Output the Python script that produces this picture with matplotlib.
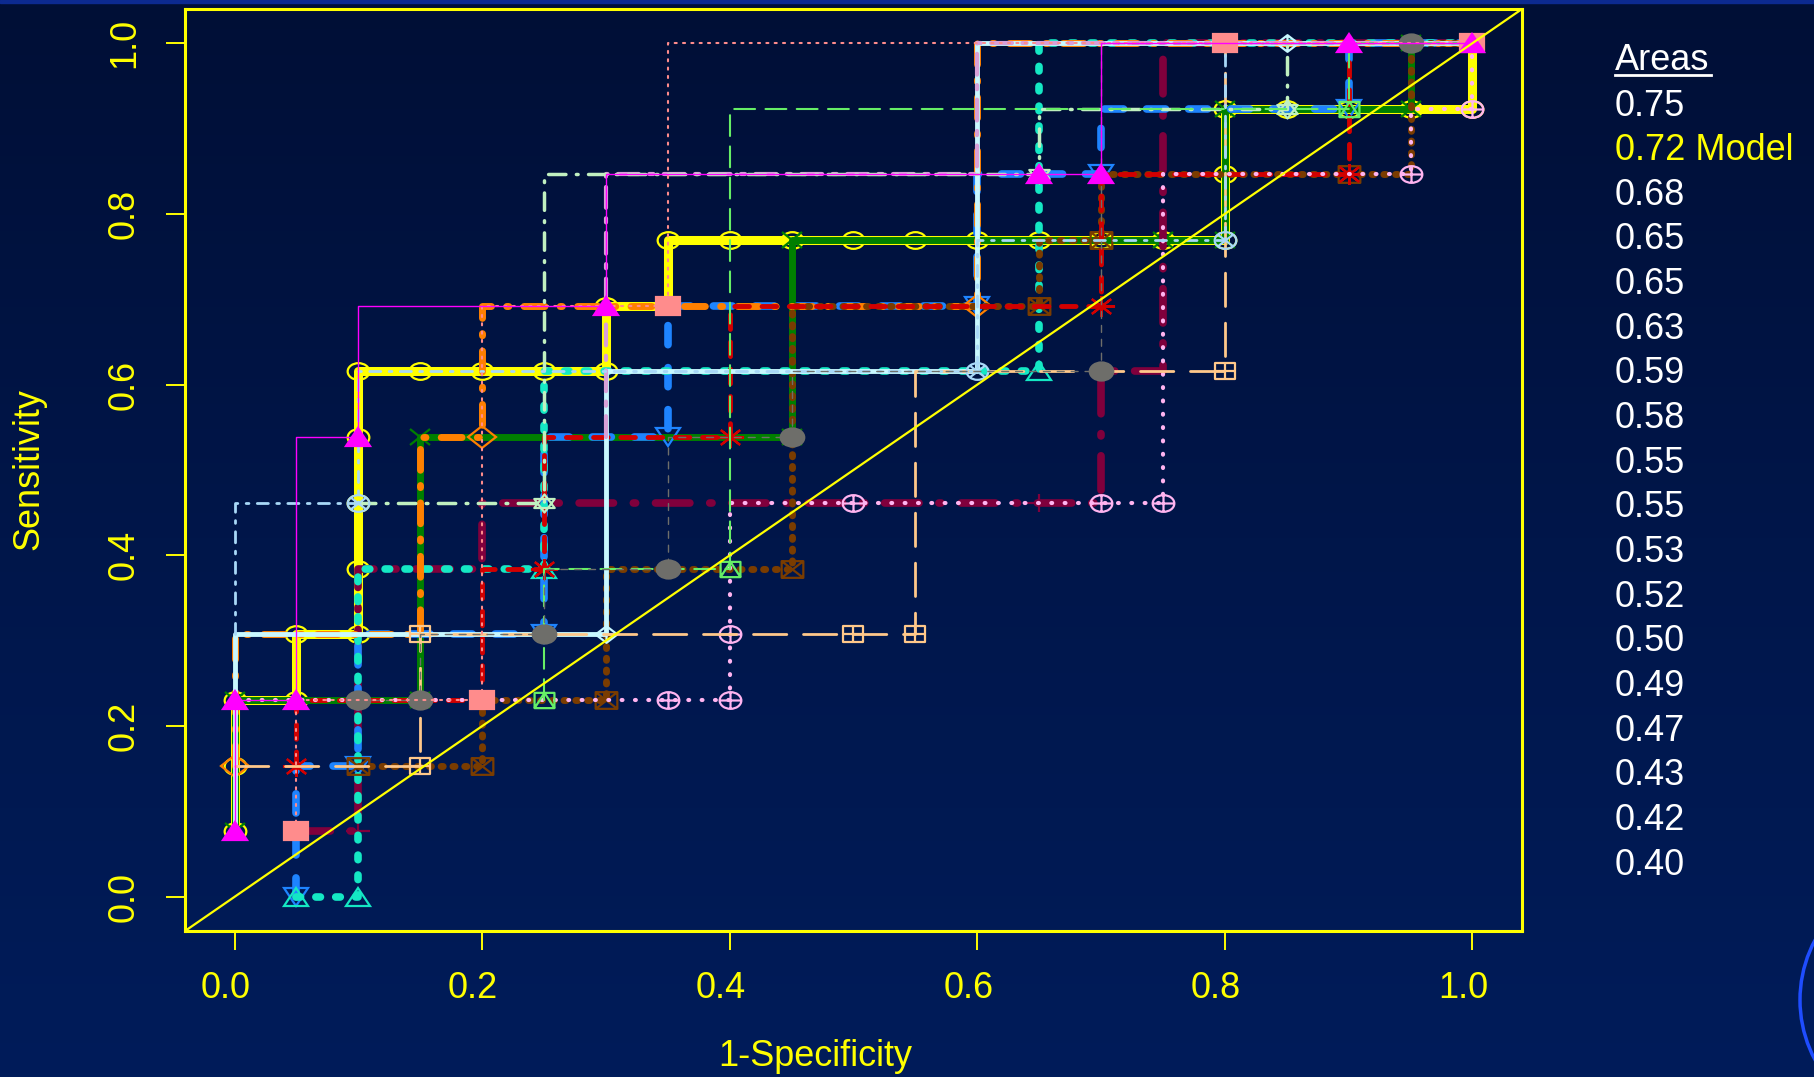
import numpy as np
import matplotlib
matplotlib.use("Agg")
import matplotlib.pyplot as plt
from matplotlib.path import Path
from matplotlib.markers import MarkerStyle
from matplotlib.transforms import Affine2D, ScaledTranslation
from matplotlib.patches import Circle
from matplotlib.colors import LinearSegmentedColormap

# 20 negatives, 13 positives -> ROC points stored as counts
n_neg, n_pos = 20, 13

model_fp = [0, 0, 0, 1, 1, 2, 2, 2, 2, 2, 3, 4, 5, 6, 6, 7, 7, 8, 9, 10, 11,
            12, 13, 14, 15, 16, 16, 16, 17, 18, 19, 20, 20]
model_tp = [1, 2, 3, 3, 4, 4, 5, 6, 7, 8, 8, 8, 8, 8, 9, 9, 10, 10, 10, 10, 10,
            10, 10, 10, 10, 10, 11, 12, 12, 12, 12, 12, 13]

green_fp = [0, 0, 3, 3, 9, 9, 15, 16, 16, 19, 19, 20]
green_tp = [1, 3, 3, 7, 7, 10, 10, 10, 12, 12, 13, 13]

orange_fp = [0, 0, 3, 3, 4, 4, 12, 12, 20]
orange_tp = [2, 4, 4, 7, 7, 9, 9, 13, 13]

blue_fp = [1, 1, 2, 2, 5, 5, 7, 7, 12, 12, 14, 14, 18, 18, 20]
blue_tp = [0, 2, 2, 4, 4, 7, 7, 9, 9, 11, 11, 12, 12, 13, 13]

aqua_fp = [1, 2, 2, 5, 5, 13, 13, 20]
aqua_tp = [0, 0, 5, 5, 8, 8, 13, 13]

maroon_fp = [1, 2, 2, 4, 4, 13, 14, 14, 15, 15, 20]
maroon_tp = [1, 1, 5, 5, 6, 6, 6, 8, 8, 13, 13]

red_fp = [1, 1, 4, 4, 5, 5, 8, 8, 14, 14, 18, 18, 20]
red_tp = [2, 3, 3, 5, 5, 7, 7, 9, 9, 11, 11, 13, 13]

brown_fp = [2, 4, 4, 6, 6, 9, 9, 13, 13, 14, 14, 18, 19, 19, 20]
brown_tp = [2, 2, 3, 3, 5, 5, 9, 9, 10, 10, 11, 11, 11, 13, 13]

gray_fp = [2, 3, 3, 5, 5, 7, 7, 9, 9, 14, 14, 19, 20]
gray_tp = [3, 3, 4, 4, 5, 5, 7, 7, 8, 8, 13, 13, 13]

salmon_fp = [1, 1, 4, 4, 7, 7, 16, 20]
salmon_tp = [1, 3, 3, 9, 9, 13, 13, 13]

magenta_fp = [0, 0, 1, 1, 2, 2, 6, 6, 13, 14, 14, 18, 20]
magenta_tp = [1, 3, 3, 7, 7, 9, 9, 11, 11, 11, 13, 13, 13]

lgreen_fp = [5, 5, 8, 8, 18, 18, 20]
lgreen_tp = [3, 5, 5, 12, 12, 13, 13]

peach_fp = [0, 3, 3, 10, 11, 11, 16, 16, 20]
peach_tp = [2, 2, 4, 4, 4, 8, 8, 13, 13]

pink_fp = [0, 7, 8, 8, 8, 10, 14, 15, 15, 19, 19, 20, 20]
pink_tp = [3, 3, 3, 4, 6, 6, 6, 6, 11, 11, 12, 12, 13]

pale_fp = [2, 5, 5, 13, 13, 17, 17, 20]
pale_tp = [6, 6, 11, 11, 12, 12, 13, 13]

sky_fp = [0, 0, 2, 2, 12, 12, 16, 16, 20]
sky_tp = [4, 6, 6, 8, 8, 10, 10, 13, 13]

cyan_fp = [0, 0, 6, 6, 12, 12, 17, 20]
cyan_tp = [1, 4, 4, 8, 8, 13, 13, 13]

plum_fp = [6, 6, 12, 12, 20]
plum_tp = [7, 11, 11, 13, 13]

areas = ["0.75", "0.72", "0.68", "0.65", "0.65", "0.63", "0.59", "0.58", "0.55",
         "0.55", "0.53", "0.52", "0.50", "0.49", "0.47", "0.43", "0.42", "0.40"]
model_row = 1

ticks = [0.0, 0.2, 0.4, 0.6, 0.8, 1.0]
tick_labels = ["0.0", "0.2", "0.4", "0.6", "0.8", "1.0"]


# ---- R-like plotting symbols built as paths ----
def poly(pts, closed=False):
    codes = [Path.MOVETO] + [Path.LINETO] * (len(pts) - 1)
    if closed:
        pts = list(pts) + [pts[0]]
        codes = codes + [Path.CLOSEPOLY]
    return Path(pts, codes)


circle = Path.unit_circle()
square = poly([(-1, -1), (1, -1), (1, 1), (-1, 1)], closed=True)
diamond = poly([(0, -1), (1, 0), (0, 1), (-1, 0)], closed=True)
tri_up = poly([(0, 1), (-0.87, -0.5), (0.87, -0.5)], closed=True)
tri_dn = poly([(0, -1), (-0.87, 0.5), (0.87, 0.5)], closed=True)
plus = [poly([(-1, 0), (1, 0)]), poly([(0, -1), (0, 1)])]
cross_in = [poly([(-0.7, -0.7), (0.7, 0.7)]), poly([(-0.7, 0.7), (0.7, -0.7)])]
cross_sq = [poly([(-1, -1), (1, 1)]), poly([(-1, 1), (1, -1)])]

pch = {
    "boxx": Path.make_compound_path(square, *cross_sq),
    "dplus": Path.make_compound_path(diamond, *plus),
    "oplus": Path.make_compound_path(circle, *plus),
    "david": Path.make_compound_path(tri_up, tri_dn),
    "splus": Path.make_compound_path(square, *plus),
    "ox": Path.make_compound_path(circle, *cross_in),
    "sqtri": Path.make_compound_path(square, poly([(-1, -1), (0, 1), (1, -1)])),
}
stretch = Affine2D().scale(1.3, 1.0)


def mk(m, fill="none"):
    if m is None:
        return None
    base = pch.get(m, m)
    return MarkerStyle(base, fillstyle="full" if fill != "none" else "none",
                       transform=stretch)


# fp, tp, colour, lw, dash pattern (None = solid), marker, marker size, filled, marked idx
curves = [
    (model_fp, model_tp, "#ffff00", 6.5, None, "o", 12, False, None),
    (green_fp, green_tp, "#007f00", 5.0, None, "x", 11, False, None),
    (maroon_fp, maroon_tp, "#80003c", 5.5, (4.5, 2.6, 0.3, 2.6), "+", 13, False, [1, 5]),
    (blue_fp, blue_tp, "#1e84ff", 5.5, (2.5, 3.0), "v", 13, False, [0, 2, 4, 6, 8, 10, 12]),
    (aqua_fp, aqua_tp, "#14e8c4", 5.5, (0.6, 2.0), "^", 13, False, [0, 1, 3, 5]),
    (orange_fp, orange_tp, "#ff8000", 5.0, (3.0, 2.2, 0.3, 2.2), "D", 11, False, [0, 4, 6]),
    (brown_fp, brown_tp, "#7a3c00", 5.0, (0.3, 1.4), "boxx", 12, False,
     [0, 1, 3, 5, 7, 9, 11]),
    (red_fp, red_tp, "#d20000", 3.5, (3.0, 2.6), (8, 2, 0), 15, False, [0, 4, 6, 8, 10]),
    (cyan_fp, cyan_tp, "#c8f8ff", 3.5, None, "dplus", 12, False, [2, 6]),
    (pink_fp, pink_tp, "#ffb4f0", 3.0, (0.2, 3.0), "oplus", 12, False,
     [1, 2, 3, 5, 6, 7, 9, 11]),
    (plum_fp, plum_tp, "#d8a0d8", 3.0, (5.0, 2.5, 1.0, 2.5), None, 0, False, None),
    (pale_fp, pale_tp, "#c0f0c0", 2.5, (5.0, 3.0, 0.5, 3.0), "david", 13, False, [1, 3, 5]),
    (peach_fp, peach_tp, "#ffc88a", 2.0, (12.0, 6.0), "splus", 11, False, [1, 2, 3, 4, 6]),
    (sky_fp, sky_tp, "#a8d8f8", 2.0, (4.0, 3.0, 1.0, 3.0), "ox", 12, False, [2, 4, 6]),
    (lgreen_fp, lgreen_tp, "#66ee66", 1.5, (10.0, 5.0), "sqtri", 11, False, [0, 2, 4]),
    (gray_fp, gray_tp, "#6e6e6a", 1.0, (5.0, 5.0), "o", 13, True, [0, 1, 3, 5, 7, 9, 11]),
    (salmon_fp, salmon_tp, "#ff8c8c", 1.5, (1.0, 3.0), "s", 13, True, [0, 2, 4, 6, 7]),
    (magenta_fp, magenta_tp, "#ff00ff", 1.0, None, "^", 13, True,
     [0, 1, 2, 4, 6, 8, 9, 11, 12]),
]

font = ["Liberation Sans", "DejaVu Sans"]
axis_size = 26

W, H = 1815, 1077
fig = plt.figure(figsize=(W / 100, H / 100), dpi=100)

# background: navy gradient, top strip and a ring peeking in at the right
bg = fig.add_axes([0, 0, 1, 1])
bg.set_xlim(0, W)
bg.set_ylim(H, 0)
bg.axis("off")
navy = LinearSegmentedColormap.from_list("navy", ["#000f36", "#00164a", "#001c5a"])
bg.imshow(np.linspace(0, 1, 256)[:, None], cmap=navy, aspect="auto",
          extent=[0, W, H, 0], zorder=0)
bg.axhspan(0, 3, color="#0c2a90", zorder=1)
bg.add_patch(Circle((1927, 1000), 127, fill=False, ec="#1f4dff", lw=2.5, zorder=2))

ax = fig.add_axes([185 / W, 146 / H, 1337 / W, 922 / H])
ax.set_facecolor("none")
ax.set_xlim(-0.04, 1.04)
ax.set_ylim(-0.04, 1.04)

for z, (fp, tp, col, lw, dash, m, ms, filled, marks) in enumerate(curves):
    x = np.asarray(fp) / n_neg
    y = np.asarray(tp) / n_pos
    ls = "-" if dash is None else (0, dash)
    ax.plot(x, y, color=col, lw=lw, linestyle=ls,
            dash_capstyle="round", solid_capstyle="round",
            dash_joinstyle="round", solid_joinstyle="round",
            marker=mk(m, "full" if filled else "none"), markersize=ms,
            markeredgecolor=col, markerfacecolor=col if filled else "none",
            markeredgewidth=1.6, markevery=marks, zorder=3 + z)

ax.plot([-0.04, 1.04], [-0.04, 1.04], color="#ffff00", lw=1.6, zorder=40)

for s in ax.spines.values():
    s.set_color("#ffff00")
    s.set_linewidth(2.2)

ax.set_xticks(ticks)
ax.set_yticks(ticks)
ax.set_xticklabels(tick_labels, family=font, fontsize=axis_size)
ax.set_yticklabels(tick_labels, family=font, fontsize=axis_size, rotation=90, va="center")
ax.tick_params(direction="out", length=14, width=1.4, color="#ffff00",
               labelcolor="#ffff00")
ax.tick_params(axis="x", pad=15)
ax.tick_params(axis="y", pad=17)
shift = ScaledTranslation(-0.09, 0, fig.dpi_scale_trans)
for lab in ax.get_xticklabels():
    lab.set_transform(lab.get_transform() + shift)

bg.text(815, 1056, "1-Specificity", color="#ffff00", family=font, fontsize=axis_size,
        ha="center", va="center", zorder=5)
bg.text(29, 469, "Sensitivity", color="#ffff00", family=font, fontsize=axis_size,
        rotation=90, ha="center", va="center", zorder=5)

# area listing on the right
lx, row0, step = 1615, 106, 44.65
bg.text(lx, 61, "Areas", color="white", family=font, fontsize=26,
        ha="left", va="center", zorder=5)
bg.plot([lx, 1711], [75, 75], color="white", lw=2, zorder=5)
for i, a in enumerate(areas):
    is_model = i == model_row
    bg.text(lx, row0 + i * step, a + (" Model" if is_model else ""),
            color="#ffff00" if is_model else "white", family=font,
            fontsize=26, ha="left", va="center", zorder=5)

fig.savefig("out.png", dpi=100)
